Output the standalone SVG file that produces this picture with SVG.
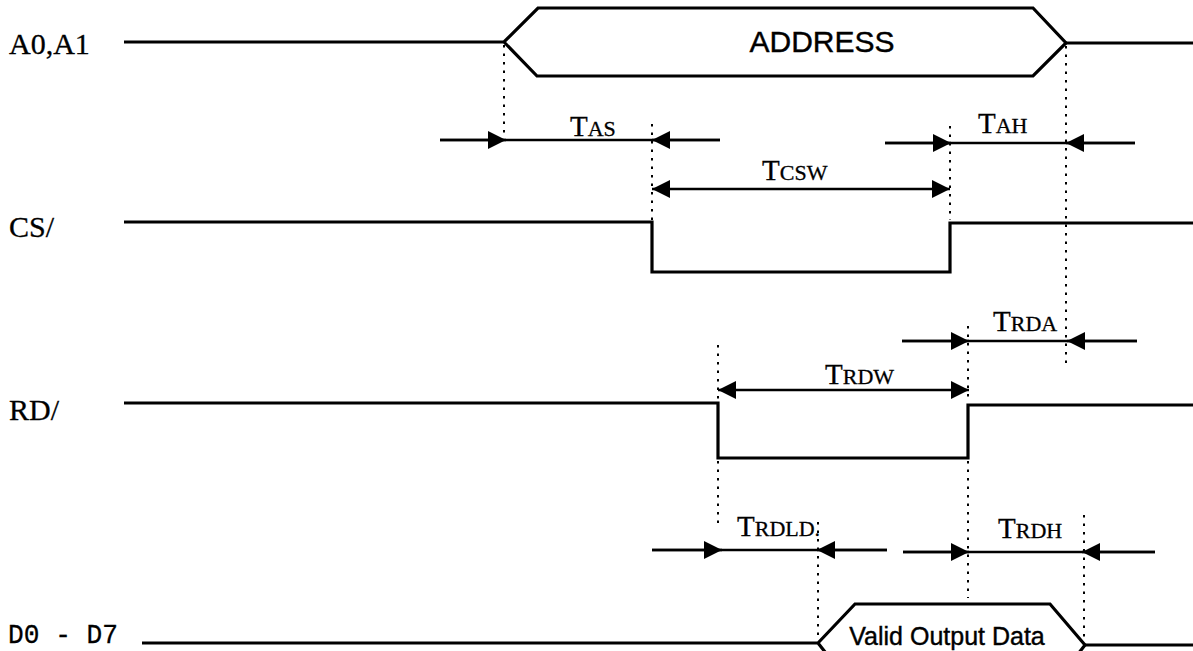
<svg xmlns="http://www.w3.org/2000/svg" width="1193" height="651" viewBox="0 0 1193 651">
<style>
.sig{fill:none;stroke:#000;stroke-width:3.2;stroke-linejoin:miter}
.tl{fill:none;stroke:#000;stroke-width:2.6}
.dot{fill:none;stroke:#000;stroke-width:2;stroke-dasharray:2.5 6}
.lbl{font-family:"Liberation Serif","Times New Roman",serif;font-size:30px;fill:#000;stroke:#000;stroke-width:0.3}
.mono{font-family:"Liberation Mono","Courier New",monospace;font-size:27px;fill:#000;stroke:#000;stroke-width:0.3}
.tm{font-family:"Liberation Serif","Times New Roman",serif;font-size:29px;fill:#000;stroke:#000;stroke-width:0.3}
.tm tspan{font-size:22px}
.bus{font-family:"Liberation Sans",Arial,sans-serif;fill:#000;stroke:#000;stroke-width:0.4}
</style>
<defs>
<marker id="ah" viewBox="0 0 18 18" refX="18" refY="9" markerWidth="18" markerHeight="18" markerUnits="userSpaceOnUse" orient="auto-start-reverse">
<path d="M0,0 L18,9 L0,18 Z" fill="#000"/>
</marker>
</defs>
<rect width="1193" height="651" fill="#fff"/>

<g id="sig-a0a1">
<text class="lbl" x="9" y="54">A0,A1</text>
<path class="sig" d="M124,42 H504 L538,8 H1033 L1066,43 L1033,76 H537 L504,42"/>
<path class="sig" d="M1066,43 H1193"/>
<text class="bus" x="822" y="52" font-size="30" text-anchor="middle">ADDRESS</text>
</g>

<g id="sig-cs">
<text class="lbl" x="9" y="237">CS/</text>
<path class="sig" d="M124,222 H652 V272 H950 V223 H1193"/>
</g>

<g id="sig-rd">
<text class="lbl" x="9" y="420">RD/</text>
<path class="sig" d="M124,403 H718 V458 H968 V405 H1193"/>
</g>

<g id="sig-data">
<text class="mono" x="8" y="643" textLength="110" lengthAdjust="spacingAndGlyphs">D0 - D7</text>
<path class="sig" d="M142,643 H818 L855,604 H1050 L1085,645 L1050,690 H855 L818,643"/>
<path class="sig" d="M1085,645 H1193"/>
<text class="bus" x="947" y="645" font-size="25" text-anchor="middle">Valid Output Data</text>
</g>

<g id="guides">
<path class="dot" d="M504,45 V138"/>
<path class="dot" d="M652,124 V220"/>
<path class="dot" d="M950,126 V220"/>
<path class="dot" d="M1066,46 V366"/>
<path class="dot" d="M968,326 V402 M968,461 V598"/>
<path class="dot" d="M718,345 V401 M718,461 V526"/>
<path class="dot" d="M818,522 V640"/>
<path class="dot" d="M1084,515 V641"/>
</g>

<g id="connectors">
<g id="t-as">
<path class="tl" d="M440,140 H720"/>
<path class="tl" d="M440,140 H506" marker-end="url(#ah)"/>
<path class="tl" d="M720,140 H652" marker-end="url(#ah)"/>
<text class="tm" x="570" y="136">T<tspan>AS</tspan></text>
</g>
<g id="t-ah">
<path class="tl" d="M885,143 H1135"/>
<path class="tl" d="M885,143 H951" marker-end="url(#ah)"/>
<path class="tl" d="M1135,143 H1066" marker-end="url(#ah)"/>
<text class="tm" x="978" y="133">T<tspan>AH</tspan></text>
</g>
<g id="t-csw">
<path class="tl" d="M652,189 H950" marker-start="url(#ah)" marker-end="url(#ah)"/>
<text class="tm" x="762" y="180">T<tspan>CSW</tspan></text>
</g>
<g id="t-rda">
<path class="tl" d="M902,341 H1137"/>
<path class="tl" d="M902,341 H969" marker-end="url(#ah)"/>
<path class="tl" d="M1137,341 H1067" marker-end="url(#ah)"/>
<text class="tm" x="993" y="331">T<tspan>RDA</tspan></text>
</g>
<g id="t-rdw">
<path class="tl" d="M718,390 H969" marker-start="url(#ah)" marker-end="url(#ah)"/>
<text class="tm" x="825" y="384">T<tspan>RDW</tspan></text>
</g>
<g id="t-rdld">
<path class="tl" d="M652,550 H887"/>
<path class="tl" d="M652,550 H722" marker-end="url(#ah)"/>
<path class="tl" d="M887,550 H817" marker-end="url(#ah)"/>
<text class="tm" x="737" y="536">T<tspan>RDLD.</tspan></text>
</g>
<g id="t-rdh">
<path class="tl" d="M903,552 H1155"/>
<path class="tl" d="M903,552 H969" marker-end="url(#ah)"/>
<path class="tl" d="M1155,552 H1082" marker-end="url(#ah)"/>
<text class="tm" x="998" y="538">T<tspan>RDH</tspan></text>
</g>
</g>
</svg>
